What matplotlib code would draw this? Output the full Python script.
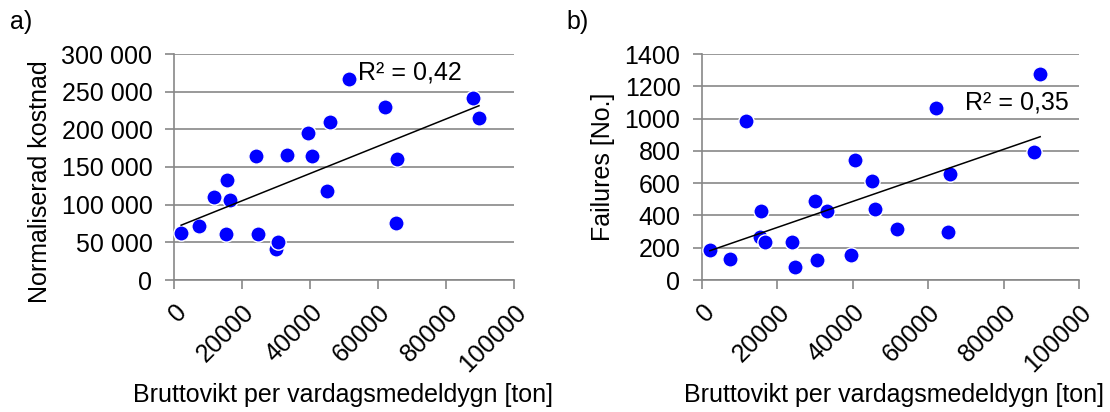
import matplotlib
matplotlib.use("Agg")
import matplotlib.pyplot as plt
import numpy as np
from matplotlib.ticker import FuncFormatter, MultipleLocator

plt.rcParams["font.family"] = ["Liberation Sans", "DejaVu Sans"]

# Gross weight per weekday-average day [ton], shared by both panels
bruttovikt = [2100, 7400, 11700, 15400, 15600, 16600, 24000, 24700, 29900, 30600,
              33270, 39400, 40500, 45100, 46000, 51600, 62100, 65200, 65700, 88000, 89700]

# Panel a) normalised cost
kostnad = [62000, 72000, 110600, 61500, 133000, 106000, 164000, 61000, 40700, 50000,
           166000, 195500, 164600, 118500, 210000, 266800, 230000, 75200, 160000, 241000, 215500]

# Panel b) number of failures
failures = [185, 128, 987, 264, 427, 237, 237, 80, 489, 122,
            429, 153, 743, 615, 438, 318, 1063, 295, 659, 795, 1278]

r2_labels = ["R² = 0,42", "R² = 0,35"]
panel_labels = ["a)", "b)"]
ylabels = ["Normaliserad kostnad", "Failures [No.]"]
xlabel = "Bruttovikt per vardagsmedeldygn [ton]"
x_ticks = [0, 20000, 40000, 60000, 80000, 100000]

FS = 18
GRID = "#878787"
W, H = 1110, 412

fig = plt.figure(figsize=(W / 100, H / 100), dpi=100)


def px_axes(x0, x1, y0, y1):
    return fig.add_axes([x0 / W, 1 - y1 / H, (x1 - x0) / W, (y1 - y0) / H])


ax_a = px_axes(174, 514, 54, 280)
ax_b = px_axes(702, 1079, 54, 280)


def style(ax, ymax, ystep, fmt):
    ax.set_xlim(0, 100000)
    ax.set_ylim(0, ymax)
    ax.set_xticks(x_ticks)
    ax.set_xticklabels([str(t) for t in x_ticks], rotation=45, ha="right",
                       va="top", rotation_mode="anchor")
    ax.yaxis.set_major_locator(MultipleLocator(ystep))
    ax.yaxis.set_major_formatter(FuncFormatter(fmt))
    ax.grid(axis="y", color=GRID, linewidth=1.2)
    ax.set_axisbelow(True)
    for s in ("top", "right"):
        ax.spines[s].set_visible(False)
    for s in ("left", "bottom"):
        ax.spines[s].set_color(GRID)
        ax.spines[s].set_linewidth(1.2)
    ax.tick_params(axis="both", colors=GRID, labelcolor="black", labelsize=FS,
                   length=6.5, width=1.2, direction="out")
    ax.tick_params(axis="y", pad=9)
    ax.tick_params(axis="x", pad=8)


def draw(ax, x, y, r2, r2_pos):
    x = np.asarray(x, float)
    y = np.asarray(y, float)
    ax.plot(x, y, "o", color="#0000FF", markersize=11, markeredgecolor="white",
            markeredgewidth=1.0, zorder=3, clip_on=False)
    k, m = np.polyfit(x, y, 1)
    xs = np.array([x.min(), x.max()])
    ax.plot(xs, k * xs + m, color="black", linewidth=1.1, zorder=4)
    ax.text(*r2_pos, r2, transform=ax.transAxes, fontsize=FS, ha="left", va="center")


style(ax_a, 300000, 50000, lambda v, p: f"{int(v):,}".replace(",", " "))
style(ax_b, 1400, 200, lambda v, p: f"{int(v)}")

draw(ax_a, bruttovikt, kostnad, r2_labels[0], (184 / 340, 1 - 18.5 / 226))
draw(ax_b, bruttovikt, failures, r2_labels[1], (263 / 377, 1 - 48.5 / 226))

# x-axis titles at a fixed baseline below the rotated tick labels
fig.text(343 / W, 1 - 402 / H, xlabel, fontsize=FS, ha="center", va="baseline")
fig.text(894 / W, 1 - 402 / H, xlabel, fontsize=FS, ha="center", va="baseline")

fig.text(40 / W, 1 - 182 / H, ylabels[0], rotation=90, fontsize=FS, ha="center", va="center")
fig.text(603 / W, 1 - 167 / H, ylabels[1], rotation=90, fontsize=FS, ha="center", va="center")

fig.text(10 / W, 1 - 22 / H, panel_labels[0], fontsize=FS, ha="left", va="center")
fig.text(566 / W, 1 - 22 / H, panel_labels[1], fontsize=FS, ha="left", va="center")

fig.savefig("out.png", dpi=100)
